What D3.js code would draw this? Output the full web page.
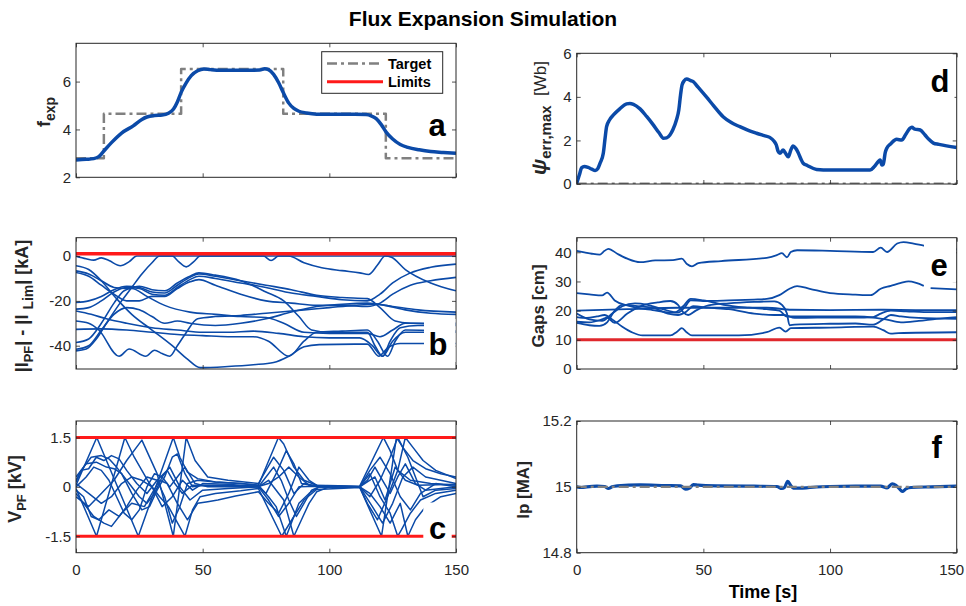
<!DOCTYPE html>
<html>
<head>
<meta charset="utf-8">
<script src="https://cdn.jsdelivr.net/npm/d3@7"></script>
<style>
  body { margin: 0; background: #fff; }
  text { font-family: "Liberation Sans", Arial, Helvetica, sans-serif; fill: #262626; }
</style>
</head>
<body>
<svg id="chart"></svg>
<script>
// Datos de la figura (leídos a ojo de la imagen)
const timeTicks = [0, 50, 100, 150];
const timeDomain = [0, 150];

// a: f_exp
const fexpTarget = [[0, 2.8], [11, 4.66], [41.5, 6.53], [81.8, 4.66], [122.3, 2.8], [150, 2.8]];
const fexpSim = [[0, 2.72], [4, 2.75], [7, 2.78], [9, 2.86], [11, 3.1], [14, 3.45], [18, 3.85], [22.6, 4.15], [26, 4.42],
  [28, 4.52], [31, 4.58], [34, 4.6], [36.5, 4.68], [38.5, 4.85], [40, 5.15], [41.5, 5.55], [43.5, 5.95], [45.5, 6.25],
  [48, 6.45], [50.5, 6.53], [53, 6.5], [57, 6.47], [65, 6.47], [72.5, 6.48], [74.5, 6.54], [76, 6.5], [78, 6.3],
  [80, 5.95], [82, 5.5], [84, 5.1], [86, 4.88], [88, 4.76], [91, 4.69], [95, 4.64], [102, 4.63], [110, 4.63],
  [114.5, 4.62], [116.5, 4.57], [118.5, 4.45], [120.5, 4.2], [122.5, 3.88], [125, 3.6], [128, 3.37], [131, 3.25],
  [135.5, 3.15], [140, 3.08], [145, 3.04], [150, 3.0]];
const fexpTicks = [2, 4, 6];

// b: |I_PF| - |I_Lim|
const pfCurrentLimit = 1;
const pfCurrentMargin = [
  [[0, 0], [4, -1.2], [7, -1.8], [10, -0.8], [13, -2], [17.5, -4.3], [21, -2.5], [24, 0], [38, 0], [40.5, -2.5], [43.5, -4.8], [46.5, -2.5], [49, 0], [74, 0], [77, -2], [80, 0], [150, 0]],
  [[0, -42.3], [4, -41.5], [8, -37], [12, -30], [18, -20], [22, -14], [26, -8], [30, -3], [33, 0], [84, 0], [90, -3], [97, -5.2], [105, -6.5], [112, -7.5], [115.5, -8.2], [119, -4], [122, 0], [124.5, -0.5], [130, -6], [140, -12], [150, -15.5]],
  [[0, -20.7], [5, -20], [10, -18], [15, -15], [20, -13.5], [25, -14], [30, -16], [35, -16.5], [40, -13], [45, -9.5], [48.5, -8], [55, -9], [65, -11], [75, -13], [85, -15], [95, -17.5], [105, -18.5], [115, -19], [120, -23], [126, -29], [132, -30], [150, -30.5]],
  [[0, -23.7], [5, -23], [10, -20], [15, -16], [20, -14], [25, -14.5], [30, -17], [35, -17.5], [40, -14], [45, -10.5], [48.5, -9], [55, -10], [65, -12], [75, -14], [85, -16.5], [95, -18], [105, -19.5], [115, -20], [120, -17], [125, -12], [132, -7.5], [140, -5], [150, -3.6]],
  [[0, -6.6], [5, -8], [10, -11], [15, -14], [20, -14.5], [25, -13.5], [30, -15], [35, -15.5], [40, -12], [45, -9], [48.5, -7.5], [55, -8.5], [65, -11], [75, -16], [82, -20], [88, -27], [93, -33], [100, -34], [110, -34], [115, -34], [118, -40], [121, -44.7], [124, -38], [128, -32], [135, -31], [150, -31]],
  [[0, -7.3], [5, -9], [10, -13], [15, -17], [20, -20], [25, -20], [30, -18], [35, -18], [40, -14.5], [45, -11.5], [48.5, -10.5], [55, -13], [65, -17], [75, -20], [85, -21], [95, -22], [105, -22], [115, -22.5], [120, -21], [125, -17], [132, -13], [140, -11], [150, -9.5]],
  [[0, -4.3], [5, -6], [10, -11], [16, -19], [22, -26], [30, -33], [38, -40], [44, -46], [49, -49.8], [60, -49.3], [70, -48.5], [78, -47.5], [84, -44.7], [90, -40.5], [96, -39.5], [110, -39.3], [115, -39.3], [119.5, -44.7], [123, -41], [128, -39], [150, -39]],
  [[0, -29], [5, -30], [9, -33], [17, -44.7], [21, -41.5], [27.5, -44.7], [31, -42], [34, -43.5], [37, -44.7], [40, -40], [43, -35], [48, -28], [55, -27], [65, -26.5], [75, -25.5], [90, -24], [100, -23], [110, -22], [118, -21.5], [125, -22.5], [135, -24], [150, -25]],
  [[0, -32.7], [10, -32.5], [20, -33], [30, -34], [40, -35], [50, -35.5], [60, -36], [70, -36], [76, -38], [84, -44.7], [90, -38], [95, -34], [105, -33.5], [115, -33], [119, -38], [123, -44.7], [126, -38], [130, -33], [150, -33.5]],
  [[0, -38.6], [5, -37], [10, -30], [15, -21], [19, -15.5], [22, -14.5], [28, -18], [35, -22], [45, -25], [55, -26], [65, -27], [75, -27.4], [82, -30], [90, -34], [100, -34.5], [115, -34.5], [120, -36], [125, -33], [130, -30], [150, -30]],
  [[0, -41.6], [5, -40], [10, -33], [15, -26], [20, -23], [25, -24], [30, -27], [35, -30], [40, -29], [45, -30], [55, -31], [65, -30], [75, -28], [85, -25], [95, -22.5], [105, -21.5], [115, -21], [122, -22], [130, -24], [140, -25.5], [150, -26]],
  [[0, -24.5], [6, -26], [12, -28], [20, -30], [30, -32], [40, -33], [50, -34], [60, -34], [70, -33.5], [80, -34.5], [90, -36], [100, -36.5], [112, -36.5], [117, -40], [121, -44.7], [125, -38], [130, -34], [150, -34]]
];
const pfCurrentTicks = [-40, -20, 0];

// c: V_PF
const vpfLimits = [-1.5, 1.5];
const vpfSim = [
  [[0, 0.05], [8.2, 1.5], [24.6, -1.5], [38.4, 1.5], [41, 0.9], [44, 0.45], [48, 0.25], [55, 0.15], [65, 0.1], [72, 0.05], [79.9, 1.5], [82, 1.3], [86, 0.6], [90, 0.2], [95, 0.05], [112, 0.02], [121.3, 1.5], [124, 1.1], [127, 0.5], [132, 0.2], [140, 0.1], [150, 0.05]],
  [[0, -0.05], [8.1, -1.5], [19.3, 1.5], [23, 0.9], [26, 0.5], [29, 0.1], [33, -0.3], [36.5, -0.6], [43, -1.5], [46, -0.7], [49, -0.3], [55, -0.2], [65, -0.12], [72, -0.05], [81.2, -1.5], [86, -0.9], [90, -0.4], [95, -0.08], [112, -0.02], [120.6, -1.5], [126.5, 1.5], [129, 1.2], [133, 0.8], [138, 0.55], [144, 0.4], [150, 0.3]],
  [[0, 0.2], [3, 0.6], [6, 0.9], [10, 0.95], [13, 0.85], [16, 0.6], [20, 0.2], [25, -0.3], [28, -0.5], [31, -0.2], [34, 0.3], [37, 0.6], [41, 0], [45, -0.4], [50, -0.1], [60, -0.05], [72, 0], [76, -0.4], [80, -0.9], [84, -0.5], [88, 0], [95, 0.02], [112, 0], [116, 0.5], [120, 0.9], [124, 0.4], [128, -0.3], [132, -0.7], [136, -0.2], [142, 0.1], [150, 0]],
  [[0, -0.2], [3, -0.5], [7, -0.9], [11, -1.1], [14, -1.2], [18, -0.8], [22, -0.5], [27, -0.6], [30, -0.2], [33, 0.2], [36, 0.1], [40, -0.5], [44, -1.0], [48, -0.5], [52, -0.45], [56, -0.4], [63, -0.28], [72, -0.15], [76, -0.5], [80, -0.8], [84, -0.2], [88, 0.6], [92, 0.2], [96, 0], [112, 0], [117, -0.6], [121, -1.1], [125, -0.5], [129, 0.3], [133, 0.6], [138, 0.3], [150, 0.1]],
  [[0, -0.3], [5, -0.6], [10, -0.2], [15, 0.2], [20, 0.8], [26, 1.42], [32, 0.4], [38.4, -1.5], [43.5, 1.5], [47, 0.8], [52, 0.3], [60, 0.2], [72, 0.1], [75, 0.5], [78, 0.9], [82, 0.5], [86, -0.2], [90, 0.1], [96, 0], [112, 0], [115, -0.5], [119, -1.0], [123, -0.3], [127, 0.5], [130, 1.5], [133, 1.2], [137, 0.8], [142, 0.5], [150, 0.25]],
  [[0, 0.3], [4, 0.7], [8, 0.75], [12, 0.6], [15, 0.55], [18, 0.4], [22, -0.2], [26, -0.7], [29, -0.6], [32, -0.1], [35, 0.3], [38, 0.9], [40, 1.0], [43, 0.4], [46, 0], [50, 0.05], [60, 0.05], [72, 0.02], [75, -0.2], [79, 0.4], [83, 1.1], [86, 0.7], [89, 0.1], [96, 0], [112, 0], [116, -0.3], [120, 0.2], [124, 0.9], [127, 1.5], [131, 0.9], [134, 0.3], [137, -0.3], [142, -0.1], [150, -0.05]],
  [[0, -0.1], [3, -0.3], [6, -0.9], [9, -1.0], [13, -0.7], [17, -0.9], [20, -0.6], [24, -0.1], [28, 0.3], [32, 0.2], [35, -0.3], [38, -1.1], [41, -0.6], [44, 0.1], [48, 0.2], [55, 0.15], [65, 0.1], [72, 0.05], [76, -0.3], [79, -0.6], [83, -1.5], [88, -0.5], [92, -0.2], [96, 0], [112, 0], [116, 0.4], [120, -0.3], [124, -0.8], [127, -1.5], [128.5, -1.3], [132, -0.8], [136, -0.4], [142, -0.2], [150, -0.1]],
  [[0, 0], [4, 0.3], [7, 0.6], [10, 0.5], [13, 0.2], [16, -0.3], [19, -0.8], [22, -1.0], [25, -0.7], [28, 0], [31, 0.4], [34, 0.3], [37, 0], [40, 0.3], [43, 0.6], [47, 0.1], [52, 0], [72, 0], [75, 0.3], [78, 0.6], [81, 0.2], [84, -0.4], [87, -0.9], [90, -0.5], [93, -0.1], [96, 0], [112, 0], [115, 0.2], [118, 0.6], [121, 0.2], [124, -0.2], [127, 0.3], [130, 0.7], [134, 0.1], [138, -0.1], [150, 0]],
  [[0, 0.1], [5, -0.2], [10, -0.5], [14, -0.3], [18, 0.1], [22, 0.3], [26, 0.2], [30, 0], [34, -0.6], [38, -0.3], [42, 0.2], [46, -0.1], [50, 0.1], [60, 0.08], [72, 0], [76, 0.2], [80, -0.2], [82, -0.4], [86, -1.5], [89, -1.0], [92, -0.5], [95, -0.15], [100, 0], [112, 0], [116, -0.2], [120, -0.6], [124, -1.1], [128, -0.5], [131, -1.5], [134, -1.0], [138, -0.6], [144, -0.3], [150, -0.2]],
  [[0, 0.15], [2, 0.5], [5, 0.55], [8, 0.9], [11, 0.8], [14, 0.95], [17, 0.85], [20, 0.5], [24, 0.1], [28, -0.2], [32, 0.2], [36, 0.5], [39, 0.1], [42, -0.2], [46, 0.05], [55, 0.02], [72, 0.01], [76, 0.1], [80, 0.3], [84, 0.6], [88, 0.3], [92, 0.05], [112, 0], [118, 0.3], [122, -0.4], [126, 0.6], [130, 0.2], [135, 0.05], [150, 0.08]]
];
const vpfTicks = [-1.5, 0, 1.5];

// d: psi_err,max
const psiTarget = [[0, 0], [150, 0]];
const psiErr = [[0, 0.03], [1, 0.4], [2, 0.75], [3, 0.8], [4.5, 0.76], [6, 0.68], [7.3, 0.62], [8.3, 0.7], [9.2, 0.95], [10.5, 1.41],
  [11.2, 2.1], [11.8, 2.63], [13, 2.95], [14.5, 3.17], [17, 3.45], [19.7, 3.68], [21, 3.7], [22.4, 3.66], [25, 3.45],
  [27.6, 3.1], [30, 2.75], [32.5, 2.35], [34.2, 2.1], [35.5, 2.12], [36.8, 2.25], [38, 2.5], [39.4, 2.95], [40.3, 3.4],
  [41, 4.1], [41.6, 4.55], [42.5, 4.75], [43.4, 4.82], [45, 4.75], [46, 4.7], [47.5, 4.5], [49, 4.3], [51.2, 4.0],
  [54, 3.6], [57.8, 3.09], [61, 2.82], [64.4, 2.63], [68, 2.45], [71, 2.33], [74, 2.22], [76.2, 2.14], [78, 1.95],
  [78.8, 1.79], [79.5, 1.5], [80.2, 1.41], [81.5, 1.56], [82.5, 1.4], [83.5, 1.25], [84.5, 1.55], [85.4, 1.74],
  [86.4, 1.65], [87.4, 1.45], [88.5, 1.15], [89.4, 0.95], [91, 0.85], [94.7, 0.67], [100, 0.64], [110, 0.64],
  [115.8, 0.64], [117.5, 0.8], [119.2, 1.05], [119.8, 1.1], [120.5, 0.87], [121, 0.9], [121.8, 1.45], [122.4, 1.64],
  [124, 1.85], [126.3, 2.05], [128.3, 2.02], [130, 2.3], [131.5, 2.55], [132.3, 2.6], [133.5, 2.52], [135.6, 2.48],
  [137.5, 2.25], [139, 2.05], [140.8, 1.88], [143, 1.82], [146, 1.75], [150, 1.68]];
const psiTicks = [0, 2, 4, 6];

// e: gaps
const gapLimit = 10;
const gaps = [
  [[0, 40.5], [3, 40], [6, 39.5], [9, 39.2], [11, 40.5], [12.5, 41.2], [16, 39.5], [20, 37.8], [25, 36.6], [31, 37.2], [38, 37.3], [41.5, 37.8], [43.5, 36], [45.5, 35.2], [48, 36.3], [57, 37], [75, 38.1], [79, 39], [81, 39.7], [83, 38.3], [84.5, 40.1], [87, 40.7], [100, 40.5], [117, 40.1], [120, 41.6], [122.5, 40.1], [126.5, 43], [129, 43.5], [133, 43], [137, 42.3], [150, 41]],
  [[0, 26], [5, 25.6], [10, 25.2], [12, 26.2], [15, 23.5], [20, 21.8], [25, 20.8], [30, 20.2], [35, 19.5], [40, 19.3], [42.5, 21], [45, 23.5], [50, 23.3], [60, 23.5], [70, 23.8], [75, 24], [80, 25.3], [84, 27.5], [87, 28.4], [92, 27.5], [100, 26], [110, 25.5], [116, 25.3], [120, 27.5], [124, 28.5], [128, 29.5], [131, 30], [134, 29.5], [137, 28.5]],
  [[139.7, 27.7], [150, 27.3]],
  [[0, 20], [20, 20.5], [40, 21], [60, 21], [75, 21], [85, 20.3], [100, 20.2], [120, 20.3], [135, 20.2], [150, 20.2]],
  [[0, 19], [5, 17], [10, 16.5], [14, 19], [18, 21.5], [23, 22.5], [28, 22], [34, 20.5], [39, 19.5], [42, 21.5], [45, 24], [50, 23.5], [58, 22], [68, 21], [75, 20.5], [80, 20], [83, 18], [86, 18], [95, 18], [110, 18], [118, 17.5], [122, 17], [128, 16], [135, 16.5], [142, 17.2], [150, 17.8]],
  [[0, 17.8], [4, 17.5], [8, 18], [11, 18.5], [14, 17], [18, 14.5], [22, 12.5], [26, 11.5], [37, 11.5], [39.5, 12.7], [41.5, 14], [43.5, 12.5], [45.5, 11.5], [64, 11.5], [75, 12.6], [80, 14.2], [82.5, 12.8], [84.5, 14], [100, 14.2], [117, 14.5], [121, 13.3], [124, 12.1], [127, 12.3], [150, 12.6]],
  [[0, 15.8], [5, 15], [9, 14.8], [12, 16], [15, 20], [18, 22], [24, 21.5], [30, 21], [36, 19], [40, 18.5], [43, 19.5], [46, 21.5], [52, 21], [60, 20.5], [70, 19], [78, 18.5], [82, 18.5], [86, 17.5], [95, 17.6], [110, 17.6], [117, 17.8], [120, 19], [124, 20], [130, 19.8], [140, 19.5], [150, 19.5]],
  [[0, 16.2], [5, 16], [10, 17], [12, 17.6], [15, 15.8], [20, 19], [26, 21.8], [32, 22.8], [37, 23.3], [40, 22], [42, 19.5], [44, 18.5], [47, 20], [52, 21.8], [60, 22.5], [70, 23], [78, 23.2], [81, 22], [83, 19], [84, 15], [86, 15.2], [100, 15.5], [110, 15.6], [117, 15.2], [121, 17], [124, 18.5], [128, 18], [135, 17.5], [150, 17.2]]
];
const gapTicks = [0, 10, 20, 30, 40];

// f: Ip
const ipTarget = [[0, 15], [150, 15]];
const ipSim = [[0, 15.0], [2, 14.998], [4, 15.0], [8, 15.002], [11, 15.001], [12.5, 14.995], [14, 15.0], [16, 15.003], [25, 15.006],
  [35, 15.004], [41, 15.003], [43, 14.993], [44.5, 14.996], [46, 15.007], [48, 15.005], [55, 15.003], [70, 15.002],
  [79, 15.001], [81, 14.995], [82, 14.998], [83.3, 15.017], [84.5, 15.004], [85.5, 14.996], [88, 14.996], [92, 14.998],
  [100, 15.001], [110, 15.002], [120, 15.002], [122.5, 14.997], [124.5, 15.009], [126, 15.005], [127.5, 14.993],
  [128.5, 14.986], [130, 14.994], [132, 14.998], [140, 15.0], [150, 15.002]];
const ipTicks = [14.8, 15, 15.2];

// Estilos
const BLUE = '#0b4aa8';
const RED = '#ff1a1a';
const GRAY = '#808080';
const INK = '#262626';
const DASHDOT = '10,4,3,4';

const svg = d3.select('#chart').attr('width', 966).attr('height', 606);
let clipCount = 0;

// Crear un panel con sus ejes tipo MATLAB (marcas hacia dentro, caja cerrada)
function makePanel(box, yDomain, yTicks, showTime) {
  const x = d3.scaleLinear().domain(timeDomain).range([box.x0, box.x1]);
  const y = d3.scaleLinear().domain(yDomain).range([box.y1, box.y0]);
  const id = 'clip' + (clipCount++);
  svg.append('clipPath').attr('id', id).append('rect')
    .attr('x', box.x0).attr('y', box.y0)
    .attr('width', box.x1 - box.x0).attr('height', box.y1 - box.y0);

  const plot = svg.append('g').attr('clip-path', `url(#${id})`);
  const axes = svg.append('g').attr('color', INK);

  const fmt = d => String(d);
  axes.append('g').attr('transform', `translate(${box.x0},0)`)
    .call(d3.axisLeft(y).tickValues(yTicks).tickSizeInner(-4).tickSizeOuter(0).tickPadding(5).tickFormat(fmt));
  axes.append('g').attr('transform', `translate(${box.x1},0)`)
    .call(d3.axisRight(y).tickValues(yTicks).tickSizeInner(-4).tickSizeOuter(0).tickFormat(''));
  const bottom = axes.append('g').attr('transform', `translate(0,${box.y1})`)
    .call(d3.axisBottom(x).tickValues(timeTicks).tickSizeInner(-4).tickSizeOuter(0).tickPadding(12)
      .tickFormat(showTime ? fmt : ''));
  axes.append('g').attr('transform', `translate(0,${box.y0})`)
    .call(d3.axisTop(x).tickValues(timeTicks).tickSizeInner(-4).tickSizeOuter(0).tickFormat(''));

  axes.selectAll('.domain').remove();
  axes.selectAll('text').attr('font-size', 15).attr('font-family', null).style('fill', INK);
  axes.selectAll('.tick line').attr('stroke', INK).attr('stroke-width', 0.8);

  // la última etiqueta del eje de tiempo no debe salirse de la ventana
  bottom.selectAll('.tick text')
    .filter(d => d === timeDomain[1] && box.x1 > 940)
    .attr('text-anchor', 'end').attr('dx', 7);

  axes.append('rect')
    .attr('x', box.x0).attr('y', box.y0)
    .attr('width', box.x1 - box.x0).attr('height', box.y1 - box.y0)
    .attr('fill', 'none').attr('stroke', INK).attr('stroke-width', 1);

  return { x, y, plot, box };
}

function drawLine(p, data, color, width, opts = {}) {
  const line = d3.line()
    .x(d => p.x(d[0]))
    .y(d => p.y(d[1]))
    .curve(opts.curve || d3.curveMonotoneX);
  p.plot.append('path')
    .datum(data)
    .attr('d', line)
    .attr('fill', 'none')
    .attr('stroke', color)
    .attr('stroke-width', width)
    .attr('stroke-linejoin', 'round')
    .attr('stroke-dasharray', opts.dash || null);
}

// Etiqueta vertical con subíndices
function yLabel(x, y, parts) {
  const t = svg.append('text')
    .attr('transform', `translate(${x},${y}) rotate(-90)`)
    .attr('text-anchor', 'middle')
    .attr('xml:space', 'preserve');
  let shift = 0;
  parts.forEach(pt => {
    const want = pt.sub ? 5 : 0;
    t.append('tspan')
      .attr('dy', want - shift)
      .attr('dx', pt.dx || 0)
      .attr('font-size', pt.size || 18)
      .attr('font-weight', pt.weight || 'bold')
      .attr('font-style', pt.style || null)
      .text(pt.text);
    shift = want;
  });
}

// Letra del panel con fondo blanco (x0..x1 = ancho del recuadro)
function panelLetter(cx, base, letter, x0, x1) {
  svg.append('rect')
    .attr('x', x0).attr('y', base - 36)
    .attr('width', x1 - x0).attr('height', 43)
    .attr('fill', '#fff');
  svg.append('text')
    .attr('x', cx).attr('y', base)
    .attr('text-anchor', 'middle')
    .attr('font-size', 31).attr('font-weight', 'bold')
    .style('fill', '#000')
    .text(letter);
}

// Panel a
const pa = makePanel({ x0: 76, x1: 456, y0: 43.3, y1: 177.3 }, [2, 7.6], fexpTicks, false);
drawLine(pa, fexpTarget, GRAY, 2.5, { curve: d3.curveStepAfter, dash: DASHDOT });
drawLine(pa, fexpSim, BLUE, 3.5);

// Panel b
const pb = makePanel({ x0: 76, x1: 456, y0: 237.7, y1: 369 }, [-50.4, 8.2], pfCurrentTicks, false);
pfCurrentMargin.forEach(s => drawLine(pb, s, BLUE, 1.6));
drawLine(pb, [[0, pfCurrentLimit], [150, pfCurrentLimit]], RED, 3.5, { curve: d3.curveLinear });

// Panel c
const pc = makePanel({ x0: 76, x1: 456, y0: 421, y1: 552.7 }, [-2, 2], vpfTicks, true);
vpfSim.forEach(s => drawLine(pc, s, BLUE, 1.5, { curve: d3.curveLinear }));
vpfLimits.forEach(v => drawLine(pc, [[0, v], [150, v]], RED, 3, { curve: d3.curveLinear }));

// Panel d
const pd = makePanel({ x0: 576.7, x1: 956.7, y0: 53.3, y1: 184 }, [0, 6], psiTicks, false);
drawLine(pd, psiTarget, GRAY, 3, { curve: d3.curveLinear, dash: DASHDOT });
drawLine(pd, psiErr, BLUE, 3.5);

// Panel e
const pe = makePanel({ x0: 576.7, x1: 956.7, y0: 237.7, y1: 369 }, [0, 45], gapTicks, false);
gaps.forEach(s => drawLine(pe, s, BLUE, 1.8));
drawLine(pe, [[0, gapLimit], [150, gapLimit]], '#e0282c', 3, { curve: d3.curveLinear });

// Panel f
const pf = makePanel({ x0: 576.7, x1: 956.7, y0: 421, y1: 552.7 }, [14.8, 15.2], ipTicks, true);
drawLine(pf, ipSim, BLUE, 3.2);
drawLine(pf, ipTarget, GRAY, 2.2, { curve: d3.curveLinear, dash: DASHDOT });

// Letras
panelLetter(437, 136, 'a', 422.5, 451.5);
panelLetter(438, 355, 'b', 424, 455.5);
panelLetter(437.5, 538.5, 'c', 423.3, 451.7);
panelLetter(940, 91.7, 'd', 925.5, 954.5);
panelLetter(939, 275.7, 'e', 924, 956);
panelLetter(936.7, 458.3, 'f', 922, 951);

// Leyenda del panel a
const lg = svg.append('g');
lg.append('rect').attr('x', 321.7).attr('y', 51.7).attr('width', 121).attr('height', 41.6)
  .attr('fill', '#fff').attr('stroke', INK).attr('stroke-width', 1);
lg.append('line').attr('x1', 327).attr('x2', 383).attr('y1', 63.5).attr('y2', 63.5)
  .attr('stroke', GRAY).attr('stroke-width', 2.5).attr('stroke-dasharray', DASHDOT);
lg.append('line').attr('x1', 327).attr('x2', 383).attr('y1', 81.7).attr('y2', 81.7)
  .attr('stroke', RED).attr('stroke-width', 3);
lg.append('text').attr('x', 388).attr('y', 68.5).attr('font-size', 14.5).attr('font-weight', 'bold').style('fill', '#000').text('Target');
lg.append('text').attr('x', 388).attr('y', 86.7).attr('font-size', 14.5).attr('font-weight', 'bold').style('fill', '#000').text('Limits');

// Etiquetas de ejes
yLabel(50, 112, [{ text: 'f' }, { text: 'exp', sub: true, size: 14 }]);
yLabel(28, 306, [{ text: '|I' }, { text: 'PF', sub: true, size: 13 }, { text: '| - |I' },
  { text: 'Lim', sub: true, size: 14, dx: 5 }, { text: '| [kA]' }]);
yLabel(21, 489, [{ text: 'V' }, { text: 'PF', sub: true, size: 13 }, { text: ' [kV]' }]);
yLabel(546, 118, [{ text: 'ψ', size: 21, style: 'italic' }, { text: 'err,max', sub: true, size: 15 },
  { text: '  [Wb]', weight: 'normal', size: 17 }]);
yLabel(544, 306, [{ text: 'Gaps [cm]', size: 17 }]);
yLabel(529, 490, [{ text: 'Ip [MA]', size: 17 }]);

svg.append('text').attr('x', 763).attr('y', 598).attr('text-anchor', 'middle')
  .attr('font-size', 18).attr('font-weight', 'bold').style('fill', '#000').text('Time [s]');

svg.append('text').attr('x', 483).attr('y', 26).attr('text-anchor', 'middle')
  .attr('font-size', 21).attr('font-weight', 'bold').style('fill', '#000').text('Flux Expansion Simulation');
</script>
</body>
</html>
